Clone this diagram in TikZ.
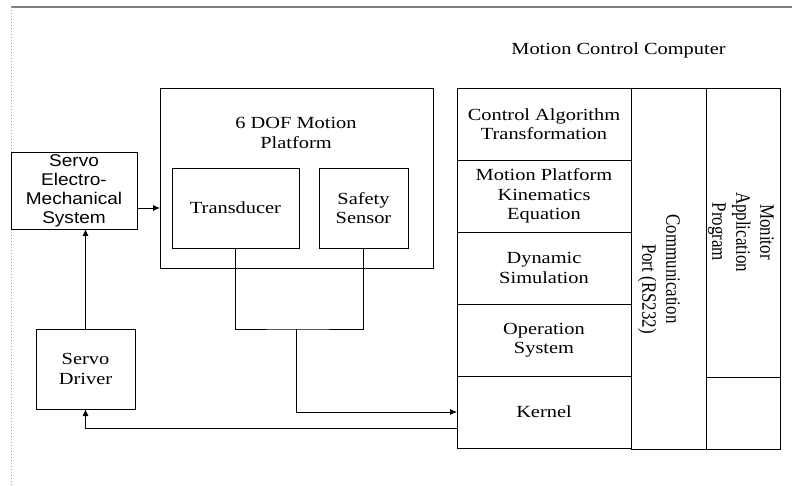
\documentclass[tikz,border=0pt]{standalone}
\usepackage{fontspec}
\setmainfont{Liberation Serif}[FakeStretch=1.2]
\setsansfont{Liberation Sans}[FakeStretch=1.12]
\newfontfamily\sidefont{Liberation Serif}[FakeStretch=0.83]
\usetikzlibrary{positioning, arrows.meta}

\begin{document}
\begin{tikzpicture}[x=1pt, y=-1pt, line width=0.8pt, >={Latex[length=7pt,width=6pt]},
    box/.style={rectangle, draw, align=center, inner sep=2pt, outer sep=0pt,
      font=\fontsize{17}{19.5}\selectfont},
    layer/.style={box, minimum width=174pt, minimum height=72pt},
    side/.style={align=center, rotate=-90, font=\sidefont\fontsize{20.4}{24}\selectfont}]
    \useasboundingbox (0,0) rectangle (792,486);

    % Frame
    \draw[gray, line width=1.5pt] (11,7) -- (792,7);
    \draw[gray!70, dotted, line width=1pt] (11,7) -- (11,486);

    % Nodes
    \node (sems) [box, font=\sffamily\fontsize{17}{19}\selectfont, minimum width=126pt, minimum height=77pt] at (74,190.5) {Servo\\Electro-\\Mechanical\\System};
    \node (platform) [box, minimum width=273pt, minimum height=180pt] at (296.5,178) {};
    \node (platformtitle) [align=center, font=\fontsize{17}{19.5}\selectfont] at (296,133) {6 DOF Motion\\Platform};
    \node (transducer) [box, minimum width=127pt, minimum height=80pt] at (235.5,208) {Transducer};
    \node (safety) [box, minimum width=89pt, minimum height=80pt] at (363.5,208) {Safety\\Sensor};
    \node (driver) [box, minimum width=99pt, minimum height=80pt] at (85.5,369) {Servo\\Driver};

    \node (computertitle) [font=\fontsize{17}{19.5}\selectfont] at (618.5,50) {Motion Control Computer};
    \node (algorithm) [layer] at (544,124) {Control Algorithm\\Transformation};
    \node (kinematics) [layer, below=0pt of algorithm] {Motion Platform\\Kinematics\\Equation};
    \node (dynamics) [layer, below=0pt of kinematics] {Dynamic\\Simulation};
    \node (os) [layer, below=0pt of dynamics] {Operation\\System};
    \node (kernel) [layer, below=0pt of os] {Kernel};
    \node (port) [box, minimum width=75pt, minimum height=361pt, anchor=north west] at (algorithm.north east) {};
    \node (monitor) [box, minimum width=74pt, minimum height=289pt, anchor=north west] at (port.north east) {};
    \node (porttext) [side] at (659,269) {Communication\\\hspace*{40pt}Port (RS232)};
    \node (monitortext) [side] at (741,232) {Monitor\\Application\\Program};
    \draw (monitor.south east) |- (port.south east);

    % Arrows
    \coordinate (merge) at (296,329);
    \draw[->] (sems.east |- transducer) -- (platform.west |- transducer);
    \draw[->] (driver.north) -- (driver |- sems.south);
    \draw (transducer.south) |- (merge) -| (safety.south);
    \draw[->] (merge) |- (kernel.west);
    \draw[->] ([yshift=-16pt]kernel.west) -| (driver.south);
\end{tikzpicture}
\end{document}
